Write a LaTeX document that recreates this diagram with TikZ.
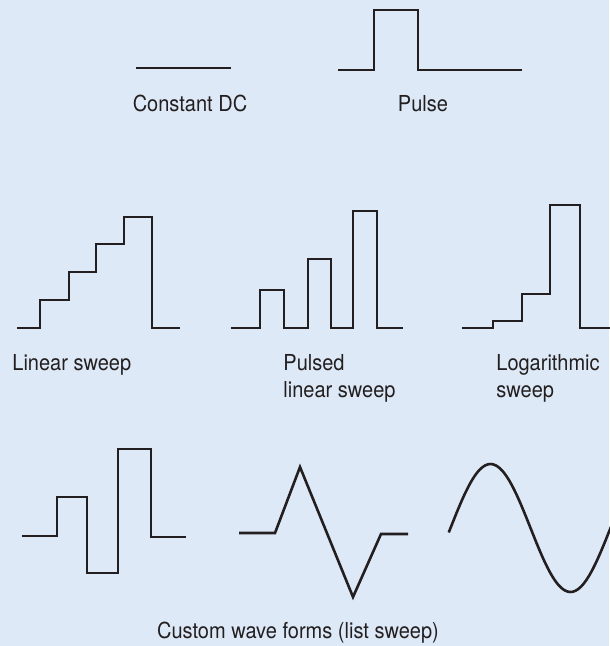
\documentclass[tikz,border=0pt]{standalone}
\usepackage{fontspec}
\setmainfont{TeX Gyre Heros}[FakeStretch=0.91]
\usepackage{tikz}
\usetikzlibrary{positioning}

\definecolor{panelblue}{RGB}{221,233,246}
\definecolor{inkgray}{RGB}{35,31,32}

\tikzset{
  wave/.style={draw=inkgray, line width=1.3pt},
  lbl/.style={inner sep=0pt, text=inkgray, font=\fontsize{11}{13}\selectfont}
}

\begin{document}
\begin{tikzpicture}[x=0.5pt, y=-0.5pt]
        % Background
        \fill[panelblue] (0,0) rectangle (609,646);
        \useasboundingbox (0,0) rectangle (609,646);

        % Nodes
        \node (dc) [lbl, anchor=base] at (190,112) {Constant DC};
        \node (pulse) [lbl, anchor=base] at (423,112) {Pulse};
        \node (lin) [lbl, anchor=base west] at (12,370) {Linear sweep};
        \node (plin) [lbl, anchor=base west] at (283,370) {Pulsed};
        \node (plin2) [lbl, anchor=base west] at (283,397) {linear sweep};
        \node (log) [lbl, anchor=base west] at (496,370) {Logarithmic};
        \node (log2) [lbl, anchor=base west] at (496,397) {sweep};
        \node (custom) [lbl, anchor=base] at (298,638) {Custom wave forms (list sweep)};

        % Waves
        \draw[wave] (136,68) -- (231,68);
        \draw[wave] (338,70) -- (374,70) -- (374,10) -- (418,10) -- (418,70) -- (522,70);
        \draw[wave] (17,328) -- (40,328) -- (40,300) -- (69,300) -- (69,272) -- (96,272)
          -- (96,244) -- (124,244) -- (124,217) -- (152,217) -- (152,328) -- (180,328);
        \draw[wave] (231,328) -- (260,328) -- (260,290) -- (284,290) -- (284,328)
          -- (308,328) -- (308,259) -- (331,259) -- (331,328) -- (353,328)
          -- (353,211) -- (377,211) -- (377,328) -- (403,328);
        \draw[wave] (462,328) -- (493,328) -- (493,321) -- (522,321) -- (522,294)
          -- (550,294) -- (550,205) -- (580,205) -- (580,328) -- (612,328);
        \draw[wave] (22,536) -- (57,536) -- (57,497) -- (87,497) -- (87,573) -- (118,573)
          -- (118,449) -- (151,449) -- (151,537) -- (186,537);
        \draw[wave] (239,533) -- (275,533) -- (300,467) -- (353,597) -- (381,534) -- (408,534);
        \draw[wave] plot[smooth, samples=60, domain=-4:370] ({450.5+\x/360*160},{528-64*sin(\x)});
    \end{tikzpicture}
\end{document}
